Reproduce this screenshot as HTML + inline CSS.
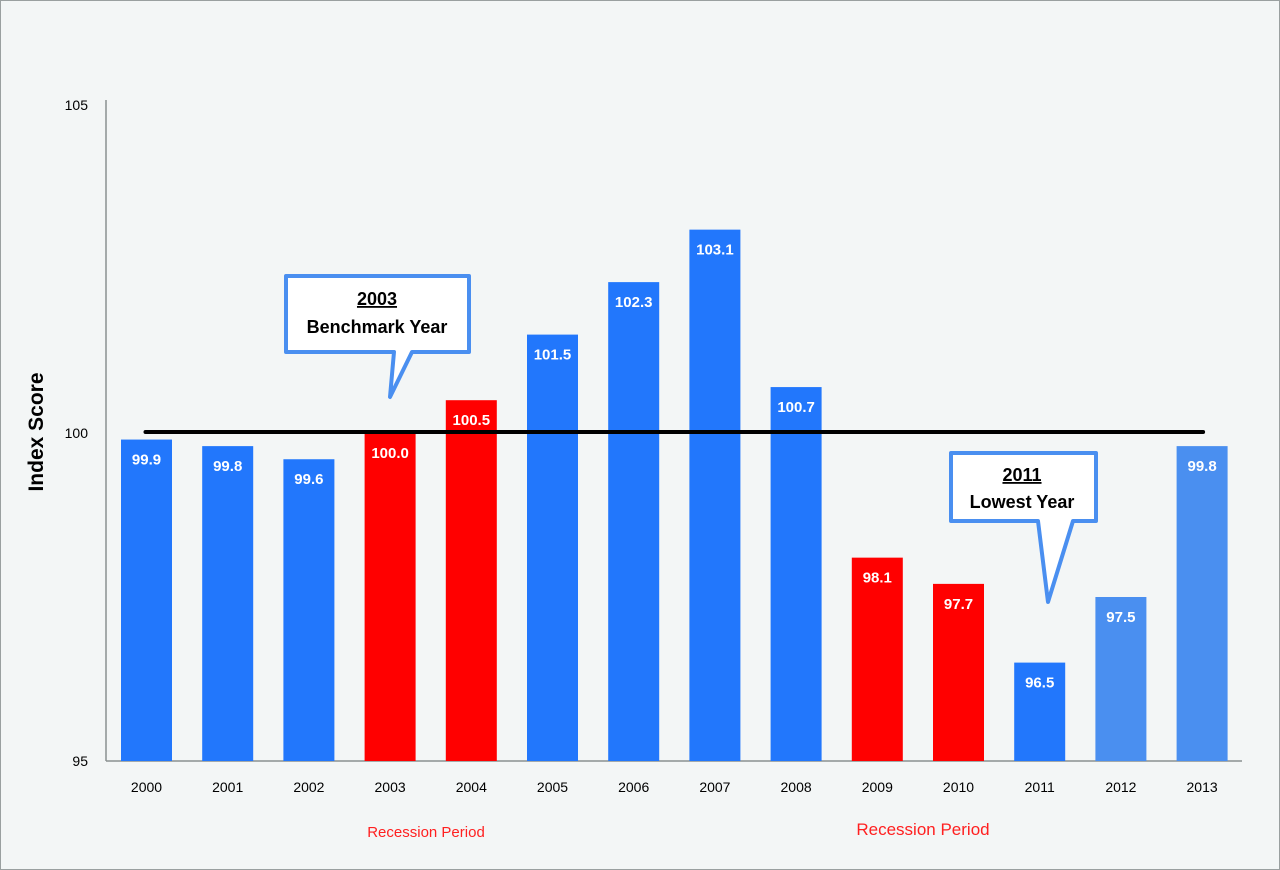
<!DOCTYPE html>
<html><head><meta charset="utf-8"><style>
body{margin:0;background:#fff}
svg{display:block;font-family:"Liberation Sans",sans-serif}
</style></head><body>
<svg width="1280" height="870">
<rect x="0.5" y="0.5" width="1279" height="869" fill="#f3f6f6" stroke="#9aa0a0"/>
<g id="plot"></g>
<text x="0" y="0" transform="translate(43,432) rotate(-90)" text-anchor="middle" font-size="21" font-weight="bold" fill="#000">Index Score</text>
<text x="426" y="837" text-anchor="middle" font-size="15" fill="#ff2020">Recession Period</text>
<text x="923" y="835" text-anchor="middle" font-size="17" fill="#ff2020">Recession  Period</text>
<g>
<path d="M286,276 H469 V352 H412 L390,397 L394,352 H286 Z" fill="#fff" stroke="#4a8ff0" stroke-width="4" stroke-linejoin="round"/>
<text x="377" y="305" text-anchor="middle" font-size="18" font-weight="bold" text-decoration="underline">2003</text>
<text x="377" y="333" text-anchor="middle" font-size="18" font-weight="bold">Benchmark Year</text>
</g>
<g>
<path d="M951,453 H1096 V521 H1073 L1048,602 L1038,521 H951 Z" fill="#fff" stroke="#4a8ff0" stroke-width="4" stroke-linejoin="round"/>
<text x="1022" y="481" text-anchor="middle" font-size="18" font-weight="bold" text-decoration="underline">2011</text>
<text x="1022" y="508" text-anchor="middle" font-size="18" font-weight="bold">Lowest Year</text>
</g>
</svg>
<script>
const years=["2000","2001","2002","2003","2004","2005","2006","2007","2008","2009","2010","2011","2012","2013"];
const values=[99.9,99.8,99.6,100.0,100.5,101.5,102.3,103.1,100.7,98.1,97.7,96.5,97.5,99.8];
const barKinds=["blue","blue","blue","red","red","blue","blue","blue","blue","red","red","blue","light","light"];
const yTicks=[95,100,105];
const benchmark=100;
const NS="http://www.w3.org/2000/svg";
const g=document.getElementById('plot');
const y0=761,pxPerUnit=65.6,axisX=106;
function yScale(v){return y0-(v-95)*pxPerUnit;}
function xCenter(i){return 146.5+i*81.2;}
const colors={blue:"#2277fc",red:"#ff0000",light:"#4a8ff0"};
function mk(tag,attrs){const e=document.createElementNS(NS,tag);for(const k in attrs)e.setAttribute(k,attrs[k]);g.appendChild(e);return e;}
// axes
let ax=mk('line',{x1:axisX,y1:100,x2:axisX,y2:y0,stroke:'#8a9090','stroke-width':1.5});


let bx=mk('line',{x1:axisX,y1:y0,x2:1242,y2:y0,stroke:'#8a9090','stroke-width':1.5});


yTicks.forEach(t=>{
  const tx=mk('text',{x:88,y:yScale(t)+5,'text-anchor':'end','font-size':14,fill:'#000'});
  tx.textContent=t;
  
  
});
years.forEach((yr,i)=>{
  const v=values[i],cx=xCenter(i),top=yScale(v);
  const r=mk('rect',{x:cx-25.5,y:top,width:51,height:y0-top,fill:colors[barKinds[i]]});
  
  
  const lb=mk('text',{x:cx,y:top+25,'text-anchor':'middle','font-size':15,'font-weight':'bold',fill:'#fff'});
  lb.textContent=v.toFixed(1);
  
  
  const xl=mk('text',{x:cx,y:792,'text-anchor':'middle','font-size':14,fill:'#000'});
  xl.textContent=yr;
  
  
});
const bl=mk('line',{x1:xCenter(0)-1,y1:yScale(benchmark)-1,x2:xCenter(13)+1,y2:yScale(benchmark)-1,stroke:'#000','stroke-width':4,'stroke-linecap':'round'});


</script>
</body></html>
